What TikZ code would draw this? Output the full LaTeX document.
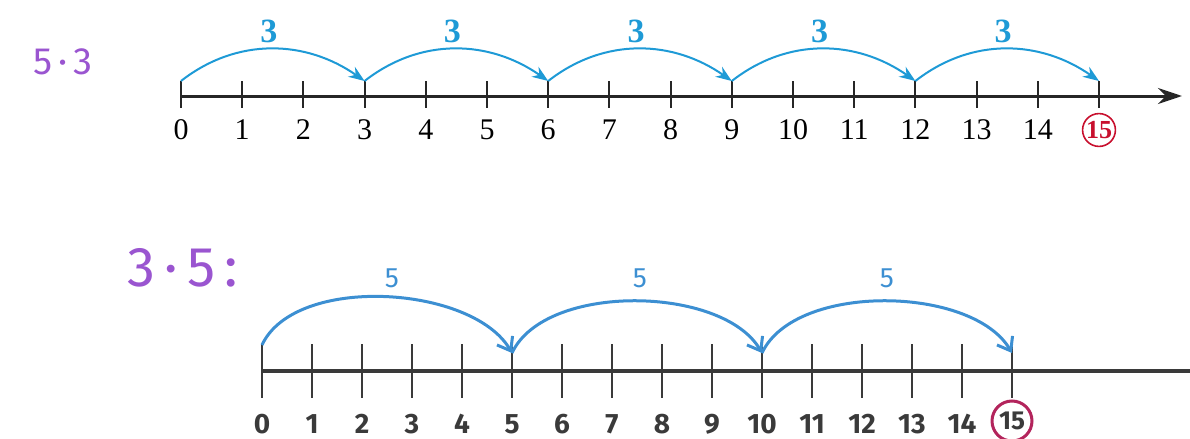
\documentclass[tikz,border=0pt]{standalone}
\usepackage{fontspec}
\setmainfont{Liberation Serif}
\newfontfamily\handfont{Fira Sans}
\usetikzlibrary{arrows.meta}
\definecolor{topblue}{HTML}{1E9AD6}
\definecolor{botblue}{HTML}{3C8FD2}
\definecolor{purp}{HTML}{9A55D0}
\definecolor{circred}{HTML}{C8102E}
\definecolor{circmag}{HTML}{B3245C}
\definecolor{axisgray}{HTML}{3A3A3A}
\tikzset{
  topaxis/.style={line width=1.5pt, black!85, -{Stealth[length=12pt,width=8pt]}},
  toptick/.style={line width=1pt, black!85},
  toplab/.style={font=\fontsize{15}{17}\selectfont, inner sep=0pt},
  topjump/.style={line width=1pt, topblue, -{Stealth[length=8pt,width=6pt]}},
  topjl/.style={font=\fontsize{17}{20}\selectfont\bfseries, text=topblue, inner sep=0pt},
  botaxis/.style={line width=2pt, axisgray},
  bottick/.style={line width=1.3pt, axisgray},
  botlab/.style={font=\handfont\bfseries\fontsize{14}{16}\selectfont, text=axisgray, inner sep=0pt},
  botjump/.style={line width=1.5pt, botblue, -{Straight Barb[length=6pt,width=9pt]}},
  botjl/.style={font=\handfont\fontsize{14}{16}\selectfont, text=botblue, inner sep=0pt},
  handlab/.style={font=\handfont, text=purp, inner sep=0pt},
}
\begin{document}
\begin{tikzpicture}[x=0.5pt,y=-0.5pt]
\useasboundingbox (0,0) rectangle (1190,439);
% ---------- top number line ----------
\coordinate (ts) at (181,96);
\coordinate (te) at (1182,96);
\draw[topaxis] (ts) -- (te);
\foreach \i in {0,...,15}{
  \pgfmathsetmacro{\xx}{181+61.2*\i}
  \coordinate (tt\i) at (\xx,81);
  \coordinate (tb\i) at (\xx,108);
  \draw[toptick] (tt\i) -- (tb\i);
}
\foreach \i in {0,...,14}{
  \pgfmathsetmacro{\xx}{181+61.2*\i}
  \node[toplab] (tl\i) at (\xx,130) {\i};
}
\node[draw=circred, line width=0.8pt, circle, minimum size=15pt, inner sep=0.3pt,
      text=circred, font=\fontsize{13}{15}\selectfont\bfseries] (tl15) at (1099,130) {15};
\foreach \a/\b in {0/3,3/6,6/9,9/12,12/15}{
  \draw[topjump] (tt\a) to[out=38,in=145] (tt\b);
}
\foreach \a/\m in {0/1.5,3/4.5,6/7.5,9/10.5,12/13.5}{
  \pgfmathsetmacro{\xx}{181+61.2*\m-4}
  \node[topjl] (tj\a) at (\xx,31) {3};
}
\node[handlab, font=\handfont\fontsize{19}{22}\selectfont] (lab53) at (63,62) {5\,·\,3};
% ---------- bottom number line ----------
\coordinate (bs) at (262,371);
\coordinate (be) at (1190,371);
\draw[botaxis] (bs) -- (be);
\foreach \i in {0,...,15}{
  \pgfmathsetmacro{\xx}{262+50*\i}
  \coordinate (bt\i) at (\xx,344);
  \coordinate (bb\i) at (\xx,398);
  \draw[bottick] (bt\i) -- (bb\i);
}
\coordinate (bt0s) at (262,345);
\foreach \i in {0,...,14}{
  \pgfmathsetmacro{\xx}{262+50*\i}
  \node[botlab] (bl\i) at (\xx,424) {\i};
}
\node[draw=circmag, line width=1.5pt, circle, minimum size=20pt, inner sep=0pt,
      font=\handfont\bfseries\fontsize{13}{15}\selectfont, text=axisgray] (bl15) at (1012,421) {15};
\coordinate (ba5) at (512,353);
\coordinate (ba10) at (762,353);
\coordinate (ba15) at (1012,353);
\draw[botjump] (bt0s) to[out=65,in=120,looseness=0.8] (ba5);
\draw[botjump] (ba5) to[out=65,in=120,looseness=0.8] (ba10);
\draw[botjump] (ba10) to[out=65,in=120,looseness=0.8] (ba15);
\node[botjl] (bj0) at (392,278) {5};
\node[botjl] (bj5) at (640,278) {5};
\node[botjl] (bj10) at (887,278) {5};
\node[handlab, font=\handfont\fontsize{28}{32}\selectfont] (lab35) at (183,268) {3\,·\,5\,:};
\end{tikzpicture}
\end{document}
